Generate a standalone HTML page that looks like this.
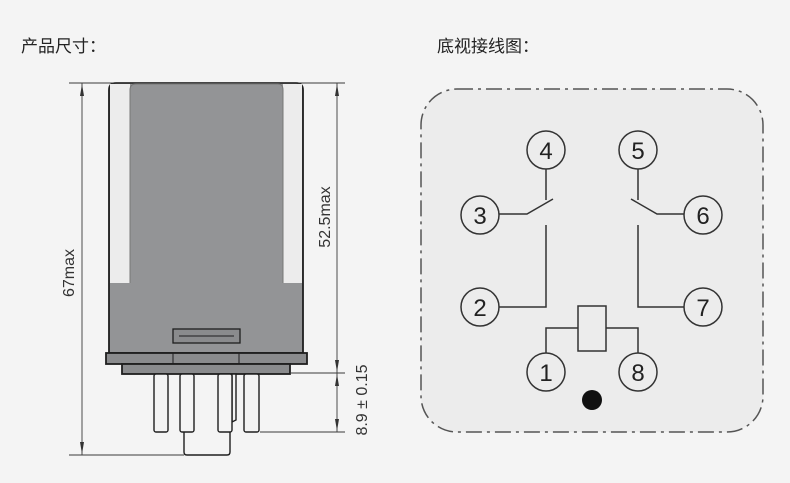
<!DOCTYPE html>
<html><head><meta charset="utf-8"><style>
html,body{margin:0;padding:0;background:#f4f4f4;}
svg{display:block;}
</style></head><body>
<svg width="790" height="483" viewBox="0 0 790 483" xmlns="http://www.w3.org/2000/svg" font-family="Liberation Sans, DejaVu Sans, sans-serif">
<rect width="790" height="483" fill="#f4f4f4"/>
<text x="21" y="52" font-size="17" fill="#222" font-family="Liberation Sans, Noto Sans CJK SC, sans-serif">产品尺寸：</text>
<text x="437" y="52" font-size="17" fill="#222" font-family="Liberation Sans, Noto Sans CJK SC, sans-serif">底视接线图：</text>

<!-- relay body -->
<g stroke="#1e1e1e" stroke-width="1.8">
  <path d="M109,353 L109,90 Q109,83 116,83 L296,83 Q303,83 303,90 L303,353 Z" fill="#939496"/>
  <rect x="110" y="84" width="20" height="199" fill="#ececec" stroke="none"/>
  <rect x="283" y="84" width="19" height="199" fill="#ececec" stroke="none"/>
  <path d="M130,283 L130,90 Q130,84 136,84 L278,84 Q283,84 283,90 L283,283" fill="none" stroke="#777" stroke-width="1"/>
  <rect x="173" y="329" width="67" height="14" fill="#8a8b8d" stroke-width="1.3"/>
  <line x1="179" y1="336" x2="234" y2="336" stroke-width="1"/>
  <rect x="106" y="353" width="201" height="11" fill="#8a8b8d"/>
  <line x1="173" y1="353" x2="173" y2="364" stroke-width="1"/>
  <line x1="239" y1="353" x2="239" y2="364" stroke-width="1"/>
  <rect x="122" y="364" width="168" height="10" fill="#8a8b8d"/>
  <g fill="#f4f4f4" stroke-width="1.4">
    <path d="M232,374 L236,374 L236,420 L232,422 Z"/>
    <path d="M184,420 L184,452 Q184,455 187,455 L227,455 Q230,455 230,452 L230,420"/>
    <rect x="154" y="374" width="14" height="58" rx="2"/>
    <rect x="180" y="374" width="14" height="58" rx="2"/>
    <rect x="218" y="374" width="14" height="58" rx="2"/>
    <rect x="244" y="374" width="15" height="58" rx="2"/>
  </g>
</g>

<!-- dimension lines -->
<g stroke="#3a3a3a" stroke-width="0.9" fill="none">
  <line x1="69" y1="83" x2="303" y2="83"/>
  <line x1="69" y1="455" x2="184" y2="455"/>
  <line x1="82" y1="83" x2="82" y2="455"/>
  <line x1="303" y1="83" x2="345" y2="83"/>
  <line x1="290" y1="373" x2="345" y2="373"/>
  <line x1="260" y1="432" x2="345" y2="432"/>
  <line x1="337" y1="83" x2="337" y2="432"/>
</g>
<g fill="#333">
  <path d="M82,84 L80,96 L84,96 Z"/><path d="M82,454 L80,442 L84,442 Z"/>
  <path d="M337,84 L335,96 L339,96 Z"/><path d="M337,372 L335,360 L339,360 Z"/>
  <path d="M337,374 L335,386 L339,386 Z"/><path d="M337,431 L335,419 L339,419 Z"/>
</g>
<g font-size="16" fill="#333" text-anchor="middle">
  <text transform="translate(74,273) rotate(-90)">67max</text>
  <text transform="translate(330,217) rotate(-90)">52.5max</text>
  <text transform="translate(367,400) rotate(-90)">8.9 ± 0.15</text>
</g>

<!-- bottom view -->
<rect x="421" y="89" width="342" height="343" rx="36" fill="#ececec" stroke="#555" stroke-width="1.5" stroke-dasharray="16,5,3,5"/>
<g stroke="#333" stroke-width="1.5" fill="none">
  <path d="M546,169 L546,200"/><path d="M499,214 L527,214 L553,199"/>
  <path d="M546,225 L546,307 L499,307"/>
  <path d="M638,169 L638,200"/><path d="M684,214 L657,214 L631,199"/>
  <path d="M638,225 L638,307 L684,307"/>
  <rect x="578" y="306" width="28" height="45" fill="#ececec"/>
  <path d="M578,328 L546,328 L546,353"/><path d="M606,328 L638,328 L638,353"/>
</g>
<g stroke="#333" stroke-width="1.5" fill="#ececec">
  <circle cx="546" cy="150" r="19"/><circle cx="638" cy="150" r="19"/>
  <circle cx="480" cy="215" r="19"/><circle cx="703" cy="215" r="19"/>
  <circle cx="480" cy="307" r="19"/><circle cx="703" cy="307" r="19"/>
  <circle cx="546" cy="372" r="19"/><circle cx="638" cy="372" r="19"/>
</g>
<g font-size="24" fill="#222" text-anchor="middle">
  <text x="546" y="159">4</text><text x="638" y="159">5</text>
  <text x="480" y="224">3</text><text x="703" y="224">6</text>
  <text x="480" y="316">2</text><text x="703" y="316">7</text>
  <text x="546" y="381">1</text><text x="638" y="381">8</text>
</g>
<circle cx="592" cy="400" r="10" fill="#111"/>
</svg>
</body></html>
